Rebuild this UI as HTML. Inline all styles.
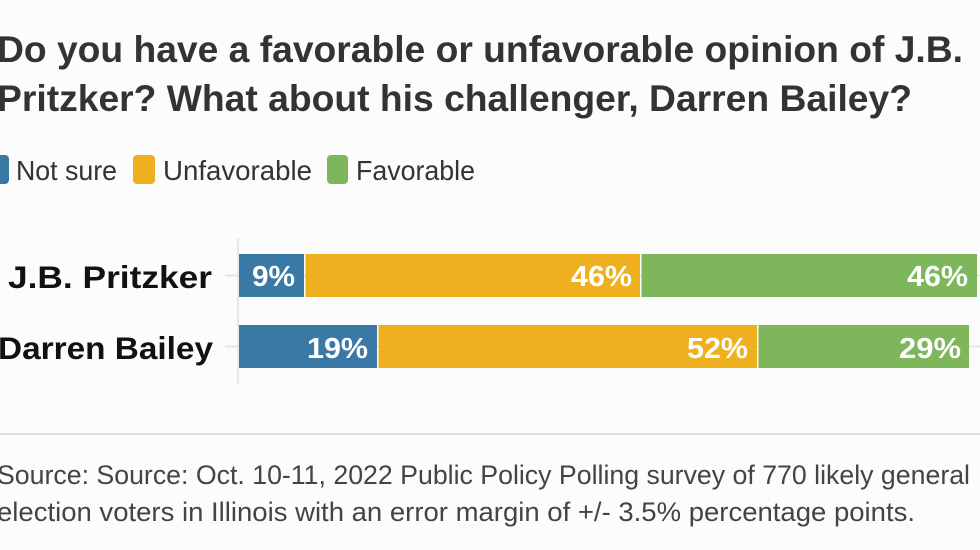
<!DOCTYPE html>
<html>
<head>
<meta charset="utf-8">
<style>
  html, body { margin: 0; padding: 0; background: #fcfcfc; }
  body { width: 980px; height: 550px; overflow: hidden; }
  svg { display: block; }
  text { font-family: "Liberation Sans", "DejaVu Sans", sans-serif; }
</style>
</head>
<body>
<svg width="980" height="550" viewBox="0 0 980 550" xmlns="http://www.w3.org/2000/svg">
  <rect x="0" y="0" width="980" height="550" fill="#fcfcfc"/>

  <!-- Title -->
  <text x="-3" y="62" font-size="37" font-weight="bold" fill="#333333" textLength="966" lengthAdjust="spacingAndGlyphs">Do you have a favorable or unfavorable opinion of J.B.</text>
  <text x="-3" y="111" font-size="37" font-weight="bold" fill="#333333" textLength="915" lengthAdjust="spacingAndGlyphs">Pritzker? What about his challenger, Darren Bailey?</text>

  <!-- Legend -->
  <rect x="-12" y="155" width="21" height="29" rx="4" fill="#3a78a5"/>
  <text x="16" y="180" font-size="28" fill="#333333" textLength="101" lengthAdjust="spacingAndGlyphs">Not sure</text>
  <rect x="133" y="155" width="22" height="29" rx="4" fill="#efb01f"/>
  <text x="163" y="180" font-size="28" fill="#333333" textLength="149" lengthAdjust="spacingAndGlyphs">Unfavorable</text>
  <rect x="327" y="155" width="21" height="29" rx="4" fill="#7db65b"/>
  <text x="356" y="180" font-size="28" fill="#333333" textLength="119" lengthAdjust="spacingAndGlyphs">Favorable</text>

  <!-- Grid -->
  <line x1="225" y1="275.5" x2="980" y2="275.5" stroke="#e4e4e4" stroke-width="2"/>
  <line x1="225" y1="346.5" x2="980" y2="346.5" stroke="#e4e4e4" stroke-width="2"/>
  <line x1="238" y1="238" x2="238" y2="383" stroke="#e8e8e8" stroke-width="2"/>

  <!-- Row labels -->
  <text x="8" y="288" font-size="31.5" font-weight="bold" fill="#111111" textLength="204" lengthAdjust="spacingAndGlyphs">J.B. Pritzker</text>
  <text x="-2" y="359" font-size="31.5" font-weight="bold" fill="#111111" textLength="215" lengthAdjust="spacingAndGlyphs">Darren Bailey</text>

  <!-- Bars row 1 -->
  <rect x="239" y="254" width="65" height="43" fill="#3a78a5"/>
  <rect x="305.5" y="254" width="334.5" height="43" fill="#efb01f"/>
  <rect x="641.5" y="254" width="335.5" height="43" fill="#7db65b"/>

  <!-- Bars row 2 -->
  <rect x="239" y="325" width="138" height="43" fill="#3a78a5"/>
  <rect x="378.5" y="325" width="378.5" height="43" fill="#efb01f"/>
  <rect x="758.5" y="325" width="210.5" height="43" fill="#7db65b"/>

  <!-- Bar labels -->
  <g font-size="29" font-weight="bold" fill="#ffffff">
    <text x="252" y="286" textLength="43" lengthAdjust="spacingAndGlyphs">9%</text>
    <text x="571" y="286" textLength="61" lengthAdjust="spacingAndGlyphs">46%</text>
    <text x="907" y="286" textLength="61" lengthAdjust="spacingAndGlyphs">46%</text>
    <text x="307" y="358" textLength="61" lengthAdjust="spacingAndGlyphs">19%</text>
    <text x="687" y="358" textLength="61" lengthAdjust="spacingAndGlyphs">52%</text>
    <text x="899" y="358" textLength="62" lengthAdjust="spacingAndGlyphs">29%</text>
  </g>

  <!-- Footer -->
  <line x1="0" y1="434" x2="980" y2="434" stroke="#dedede" stroke-width="2"/>
  <text x="-3" y="484" font-size="27" fill="#444444" textLength="973" lengthAdjust="spacingAndGlyphs">Source: Source: Oct. 10-11, 2022 Public Policy Polling survey of 770 likely general</text>
  <text x="-3" y="521" font-size="27" fill="#444444" textLength="918" lengthAdjust="spacingAndGlyphs">election voters in Illinois with an error margin of +/- 3.5% percentage points.</text>
</svg>
</body>
</html>
